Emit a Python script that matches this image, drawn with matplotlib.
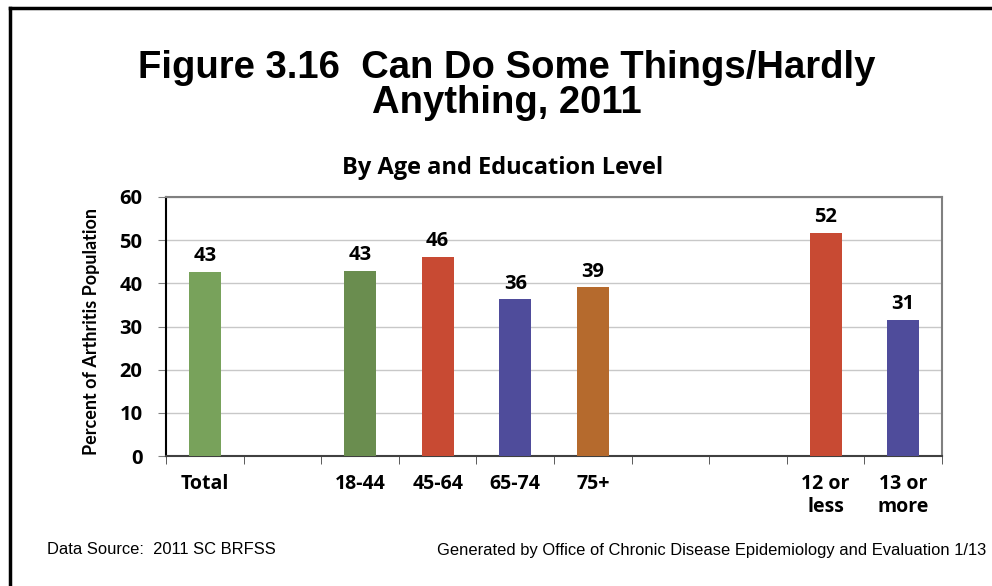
import matplotlib.pyplot as plt
from matplotlib.lines import Line2D
import numpy as np

categories = ['Total', '', '18-44', '45-64', '65-74', '75+', '', '', '12 or\nless', '13 or\nmore']
values = [42.6, None, 42.9, 46.1, 36.3, 39.1, None, None, 51.7, 31.5]
labels = ['43', '', '43', '46', '36', '39', '', '', '52', '31']
colors = ['#78A25B', None, '#6A8D4F', '#C84A33', '#4F4C9B', '#B56A2D', None, None, '#C84A33', '#4F4C9B']
y_ticks = [0, 10, 20, 30, 40, 50, 60]

BODY_FONT = 'Open Sans'


def main() -> None:
    fig = plt.figure(figsize=(9.92, 5.86), dpi=100)

    # outer frame (left and top edges only)
    fig.add_artist(Line2D([10 / 992, 10 / 992], [0, 1 - 8 / 586], color='black', lw=2.5,
                          transform=fig.transFigure))
    fig.add_artist(Line2D([10 / 992, 992 / 992], [1 - 8 / 586, 1 - 8 / 586], color='black', lw=2.5,
                          transform=fig.transFigure))

    fig.text(507 / 992, 1 - 68 / 586, 'Figure 3.16  Can Do Some Things/Hardly',
             ha='center', va='center', fontsize=27.5, fontweight='bold', family='Liberation Sans')
    fig.text(507 / 992, 1 - 103 / 586, 'Anything, 2011',
             ha='center', va='center', fontsize=27.5, fontweight='bold', family='Liberation Sans')
    fig.text(503 / 992, 1 - 168 / 586, 'By Age and Education Level', ha='center', va='center',
             fontsize=17, fontweight='bold', family=BODY_FONT)

    ax = fig.add_axes([166 / 992, 1 - 456 / 586, 776 / 992, 259 / 586])
    x = np.arange(len(categories))
    for i, v in enumerate(values):
        if v is None:
            continue
        ax.bar(x[i], v, width=0.41, color=colors[i], zorder=3)
        ax.text(x[i], v + 1.3, labels[i], ha='center', va='bottom', fontsize=14.5,
                fontweight='bold', family=BODY_FONT)

    ax.set_xlim(-0.5, len(categories) - 0.5)
    ax.set_ylim(0, 60)
    ax.set_yticks(y_ticks)
    ax.set_yticklabels([str(t) for t in y_ticks], fontsize=14.5, fontweight='bold', family=BODY_FONT)
    ax.yaxis.grid(True, color='#C8C8C8', lw=1, zorder=0)

    ax.set_xticks(x)
    ax.set_xticklabels(categories, fontsize=14, fontweight='bold', family=BODY_FONT,
                       linespacing=1.2)
    ax.tick_params(axis='x', length=0, pad=13)
    ax.set_xticks(np.arange(len(categories) + 1) - 0.5, minor=True)
    ax.tick_params(axis='x', which='minor', length=6, direction='out', color='#404040')
    ax.tick_params(axis='y', length=6, direction='out', color='#808080', pad=11)

    ax.spines['left'].set_color('black')
    ax.spines['bottom'].set_color('#404040')
    ax.spines['top'].set_color('#808080')
    ax.spines['right'].set_color('#808080')
    for s in ax.spines.values():
        s.set_linewidth(1.5)

    ax.set_ylabel('Percent of Arthritis Population', fontsize=13, fontweight='bold',
                  family='Lato')
    ax.yaxis.set_label_coords(-66 / 776, 0.48)

    fig.text(47 / 992, 1 - 550 / 586, 'Data Source:  2011 SC BRFSS', ha='left', va='center',
             fontsize=11.9, family='Liberation Sans')
    fig.text(986 / 992, 1 - 550 / 586,
             'Generated by Office of Chronic Disease Epidemiology and Evaluation 1/13',
             ha='right', va='center', fontsize=11.9, family='Liberation Sans')

    fig.savefig('out.png', dpi=100)
    plt.close(fig)


if __name__ == '__main__':
    main()
